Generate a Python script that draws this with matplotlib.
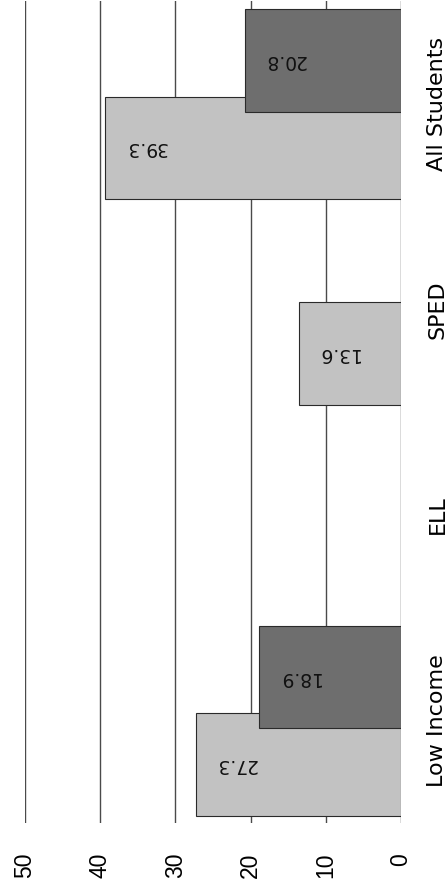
import matplotlib.pyplot as plt
import numpy as np

categorias = ['Low Income', 'ELL', 'SPED', 'All Students']
serie_clara = [27.3, None, 13.6, 39.3]
serie_escura = [18.9, None, None, 20.8]
ticks_valor = [0, 10, 20, 30, 40, 50]

fig = plt.figure(figsize=(4.48, 8.90), dpi=100)
ax = fig.add_axes([25.0 / 448, 67.0 / 890, (401.0 - 25.0) / 448, 822.0 / 890])

y = np.arange(len(categorias))

def barras(valores, desloc, cor, z):
    pos = [yy + desloc for yy, v in zip(y, valores) if v is not None]
    vals = [v for v in valores if v is not None]
    ax.barh(pos, vals, height=0.5, color=cor, edgecolor='#2a2a2a', linewidth=0.8, zorder=z)
    for p, v in zip(pos, vals):
        ax.annotate(f'{v}', xy=(v, p), xytext=(40, 0), textcoords='offset pixels',
                    rotation=180, ha='center', va='center', fontsize=13.5, color='#111111',
                    zorder=z + 1)

barras(serie_clara, -0.215, '#c2c2c2', 2)
barras(serie_escura, 0.21, '#6e6e6e', 3)

ax.set_xlim(50, 0)
ax.set_ylim(-0.5, 3.5)
ax.set_xticks(ticks_valor)
ax.set_xticklabels([str(t) for t in ticks_valor], rotation=90,
                   family='Liberation Sans', fontsize=16.5)
ax.tick_params(axis='x', length=0, pad=21.5)

ax.yaxis.tick_right()
ax.set_yticks(y)
ax.set_yticklabels(categorias, rotation=90, va='center', fontsize=16)
ax.tick_params(axis='y', length=0, pad=19)

ax.grid(axis='x', color='#4a4a4a', linewidth=1)
ax.set_axisbelow(True)
for s in ax.spines.values():
    s.set_visible(False)

fig.savefig('out.png', dpi=100)
